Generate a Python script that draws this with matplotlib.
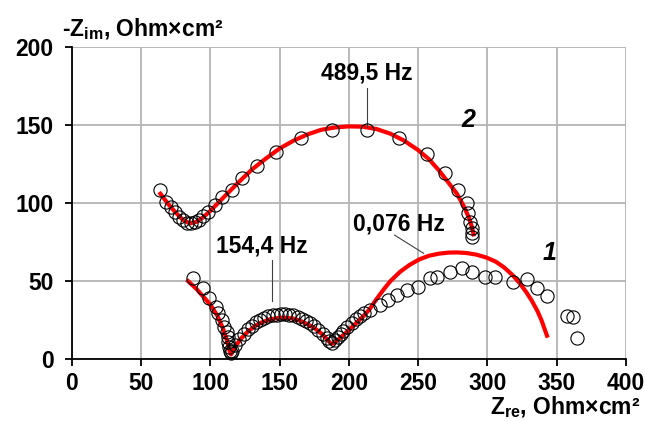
import numpy as np
import matplotlib.pyplot as plt

plt.rcParams['font.family'] = ['Liberation Sans', 'DejaVu Sans']
plt.rcParams['font.weight'] = 'bold'
plt.rcParams['mathtext.fontset'] = 'custom'
plt.rcParams['mathtext.rm'] = 'Liberation Sans:bold'
plt.rcParams['mathtext.bf'] = 'Liberation Sans:bold'
plt.rcParams['mathtext.it'] = 'Liberation Sans:bold:italic'

# curve 2 - measured points
x2 = [63.7, 67.8, 71.4, 74.5, 77.6, 80.5, 83.4, 85.9, 89.0, 92.1, 95.0, 98.6,
      103.4, 108.2, 115.4, 122.7, 133.5, 147.4, 165.2, 187.6, 212.8, 236.4,
      256.1, 269.3, 279.0, 285.0, 286.1, 287.4, 288.6, 288.6, 288.6]
y2 = [108.3, 100.8, 97.6, 94.4, 91.2, 89.1, 87.4, 87.0, 88.0, 89.5, 91.7, 94.4,
      98.7, 104.0, 108.3, 115.8, 123.7, 132.9, 141.5, 147.2, 147.2, 141.9,
      131.4, 119.0, 108.3, 99.8, 93.4, 88.0, 83.8, 80.6, 78.4]

# curve 2 - fit
fx2 = [64, 70, 75, 80, 85, 90, 95, 100, 105, 110, 115, 120, 130, 140, 150, 160,
       170, 180, 190, 200, 210, 220, 230, 240, 250, 258, 265, 272, 278, 283, 287,
       289, 290]
fy2 = [106, 99, 94, 89.5, 87, 88, 91, 95, 99.5, 104, 108.5, 113, 121.5, 128.5,
       135, 140, 144, 147, 148.5, 149.2, 149, 147.5, 144.5, 140, 134, 128, 121,
       113, 106, 98, 90, 84, 80]

# curve 1 - measured points
x1 = [87.8, 95.0, 99.3, 104.1, 105.8, 108.2, 109.9, 111.8, 113.0, 113.0, 113.7,
      114.2, 114.8, 116, 118, 121, 124, 127, 130, 133, 136, 139, 142, 145, 148,
      151, 154, 157, 160, 163, 166, 169, 172, 175, 178, 181, 184, 186, 188, 190,
      192, 194, 196, 199, 202, 205, 208, 211, 215.2, 222.4, 228.4, 234.5, 241.7,
      250.0, 258.5, 263.3, 273.0, 281.4, 288.6, 298.2, 305.4, 318.6, 328.3,
      335.5, 342.7, 357.1, 361.9, 364.3]
y1 = [51.7, 45.3, 38.9, 33.5, 29.3, 25.0, 20.7, 17.5, 14.3, 11.1, 7.9, 5.1, 3.6,
      5, 9, 13, 16, 19, 21.5, 23.5, 25, 26.5, 27.5, 28.2, 28.6, 28.8, 28.8, 28.5,
      28, 27, 26, 24.5, 23, 21, 18.5, 16, 13.5, 11.5, 10.5, 12, 14, 16, 18, 20.5,
      23, 25.5, 27.5, 29.5, 31.4, 34.6, 37.8, 41.0, 44.2, 46.4, 51.7, 52.8, 56.0,
      58.1, 56.0, 52.8, 52.4, 49.6, 51.1, 45.3, 40.4, 27.6, 26.7, 13.3]

# curve 1 - fit
fx1 = [84, 90, 95, 100, 105, 109, 112, 114, 115, 118, 122, 127, 132, 137, 143,
       150, 155, 160, 165, 170, 175, 180, 184, 187, 189, 193, 198, 204, 210, 215,
       220, 225, 230, 237, 244, 251, 258, 265, 272, 278, 285, 292, 299, 306, 312,
       318, 323, 328, 332, 336, 339, 341, 343]
fy1 = [50, 45, 40, 35, 28, 20, 12, 5, 3, 8, 13, 17.5, 21, 23.5, 25.5, 26.5, 26.5,
       26, 24.5, 22.5, 20, 16.5, 13, 10, 10, 13, 17, 22, 27, 32, 38.5, 44.5, 50,
       56, 60.5, 64, 66.3, 67.6, 68.3, 68.4, 68, 67, 65.2, 62.5, 58.8, 54, 49,
       43, 37.5, 31, 25, 20, 15]

fig = plt.figure(figsize=(6.46, 4.21), dpi=100)
ax = fig.add_axes([0.111, 0.147, 0.858, 0.741])

ax.plot(fx2, fy2, color='red', lw=3, zorder=2)
ax.plot(fx1, fy1, color='red', lw=3, zorder=2)
ax.plot(x2, y2, 'o', mfc='none', mec='black', mew=0.8, ms=9.5, zorder=3, clip_on=False)
ax.plot(x1, y1, 'o', mfc='none', mec='black', mew=0.8, ms=9.5, zorder=3, clip_on=False)

ax.set_xlim(0, 400)
ax.set_ylim(0, 200)
ax.set_xticks(np.arange(0, 401, 50))
ax.set_yticks(np.arange(0, 201, 50))
ax.grid(True, color='#b4b4b4', lw=1.3)
ax.set_axisbelow(True)
for s in ['top', 'right']:
    ax.spines[s].set_visible(False)
ax.spines['left'].set_linewidth(1.3)
ax.spines['bottom'].set_linewidth(1.3)
ax.tick_params(direction='out', length=5, width=1.3, labelsize=16.5)
ax.tick_params(axis='y', pad=8)
ax.tick_params(axis='x', pad=4)

# annotations
ax.text(213, 176, '489,5 Hz', fontsize=16.5, ha='center', va='bottom')
ax.plot([213, 213], [174, 148.5], color='#404040', lw=0.8)
ax.text(286, 153, '2', fontsize=18, style='italic', ha='center', va='center')
ax.text(137, 65, '154,4 Hz', fontsize=16.5, ha='center', va='bottom')
ax.plot([144.3, 144.3], [63.5, 37.5], color='#404040', lw=0.8)
ax.text(236, 79, '0,076 Hz', fontsize=16.5, ha='center', va='bottom')
ax.plot([233, 254], [79.5, 67.8], color='#404040', lw=0.8)
ax.text(345, 68, '1', fontsize=18, style='italic', ha='center', va='center')

fig.text(62 / 646, 1 - 36 / 421, r'-Z$_{\mathrm{im}}$, Ohm×cm²', fontsize=16.5, ha='left', va='baseline')
fig.text(640 / 646, 1 - 414 / 421, r'Z$_{\mathrm{re}}$, Ohm×cm²', fontsize=16.5, ha='right', va='baseline')

fig.savefig('out.png', dpi=100)
